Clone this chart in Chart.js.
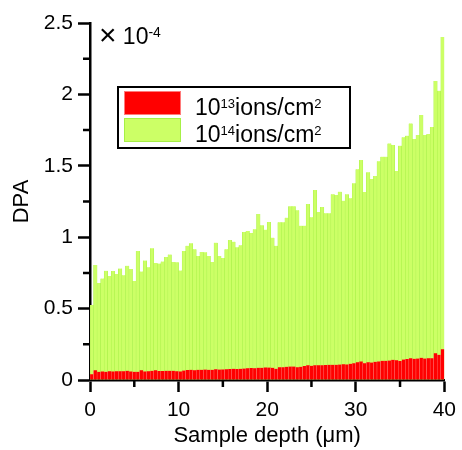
<!DOCTYPE html>
<html>
<head>
<meta charset="utf-8">
<script src="https://cdn.jsdelivr.net/npm/chart.js@4"></script>
<style>
  body { margin: 0; background: #fff; }
  canvas { display: block; }
</style>
</head>
<body>
<canvas id="dpa-chart" width="462" height="450"></canvas>
<script>
// bin centres (um), 0.4 um bins
var depth = [
  0.2, 0.6, 1, 1.4, 1.8, 2.2, 2.6, 3, 3.4, 3.8,
  4.2, 4.6, 5, 5.4, 5.8, 6.2, 6.6, 7, 7.4, 7.8,
  8.2, 8.6, 9, 9.4, 9.8, 10.2, 10.6, 11, 11.4, 11.8,
  12.2, 12.6, 13, 13.4, 13.8, 14.2, 14.6, 15, 15.4, 15.8,
  16.2, 16.6, 17, 17.4, 17.8, 18.2, 18.6, 19, 19.4, 19.8,
  20.2, 20.6, 21, 21.4, 21.8, 22.2, 22.6, 23, 23.4, 23.8,
  24.2, 24.6, 25, 25.4, 25.8, 26.2, 26.6, 27, 27.4, 27.8,
  28.2, 28.6, 29, 29.4, 29.8, 30.2, 30.6, 31, 31.4, 31.8,
  32.2, 32.6, 33, 33.4, 33.8, 34.2, 34.6, 35, 35.4, 35.8,
  36.2, 36.6, 37, 37.4, 37.8, 38.2, 38.6, 39, 39.4, 39.8
];

// DPA in units of 1e-4, fluence 1e13 ions/cm2
var dpa13 = [
  0.040, 0.068, 0.058, 0.060, 0.058, 0.061, 0.060, 0.061, 0.062, 0.061,
  0.064, 0.060, 0.058, 0.057, 0.068, 0.060, 0.062, 0.064, 0.069, 0.063,
  0.063, 0.064, 0.065, 0.064, 0.062, 0.060, 0.066, 0.070, 0.071, 0.069,
  0.072, 0.072, 0.073, 0.072, 0.071, 0.076, 0.073, 0.074, 0.076, 0.077,
  0.078, 0.077, 0.079, 0.080, 0.083, 0.084, 0.083, 0.086, 0.085, 0.088,
  0.087, 0.085, 0.079, 0.090, 0.090, 0.092, 0.094, 0.094, 0.090, 0.093,
  0.098, 0.104, 0.099, 0.104, 0.103, 0.104, 0.105, 0.107, 0.107, 0.106,
  0.108, 0.110, 0.109, 0.113, 0.118, 0.124, 0.130, 0.118, 0.124, 0.122,
  0.128, 0.130, 0.134, 0.134, 0.136, 0.142, 0.138, 0.133, 0.143, 0.147,
  0.152, 0.148, 0.150, 0.156, 0.150, 0.152, 0.153, 0.187, 0.176, 0.215
];

// DPA in units of 1e-4, fluence 1e14 ions/cm2
var dpa14 = [
  0.525, 0.805, 0.680, 0.710, 0.765, 0.728, 0.763, 0.742, 0.780, 0.733,
  0.800, 0.777, 0.693, 0.903, 0.759, 0.836, 0.789, 0.922, 0.819, 0.815,
  0.829, 0.861, 0.878, 0.826, 0.824, 0.766, 0.903, 0.940, 0.957, 0.915,
  0.868, 0.896, 0.894, 0.868, 0.826, 0.962, 0.868, 0.854, 0.915, 0.980,
  0.969, 0.929, 0.943, 1.036, 1.043, 1.029, 1.055, 1.162, 1.083, 1.053,
  1.106, 0.997, 0.940, 1.104, 1.104, 1.137, 1.216, 1.216, 1.188, 1.081,
  1.081, 1.232, 1.139, 1.330, 1.176, 1.211, 1.167, 1.167, 1.300, 1.295,
  1.319, 1.256, 1.300, 1.272, 1.377, 1.475, 1.541, 1.317, 1.454, 1.408,
  1.429, 1.531, 1.564, 1.564, 1.657, 1.646, 1.464, 1.641, 1.700, 1.711,
  1.797, 1.688, 1.716, 1.856, 1.716, 1.723, 1.772, 2.094, 2.026, 2.402
];

var xTicks = [0, 10, 20, 30, 40];
var yTicks = [0, 0.5, 1, 1.5, 2, 2.5];

// legend text pieces: [normal, superscript, normal, superscript]
var legendParts = [
  ['10', '13', 'ions/cm', '2'],
  ['10', '14', 'ions/cm', '2']
];
var seriesColors = ['#ff0000', '#ccff66'];
var edgeColors = ['#ff7a7a', '#a6f046'];

var FONT = "'Liberation Sans', Arial, sans-serif";

// short ticks halfway between the labelled ones
var minorTicks = {
  id: 'minorTicks',
  afterDraw: function(chart) {
    var c = chart.ctx, area = chart.chartArea;
    var xs = chart.scales.x, ys = chart.scales.y;
    c.save();
    c.strokeStyle = '#000';
    c.lineWidth = 2.5;
    c.beginPath();
    for (var i = 0; i < xTicks.length - 1; i++) {
      var px = xs.getPixelForValue((xTicks[i] + xTicks[i + 1]) / 2);
      c.moveTo(px, area.bottom);
      c.lineTo(px, area.bottom + 7);
    }
    for (var j = 0; j < yTicks.length - 1; j++) {
      var py = ys.getPixelForValue((yTicks[j] + yTicks[j + 1]) / 2);
      c.moveTo(area.left, py);
      c.lineTo(area.left - 7, py);
    }
    c.stroke();
    c.restore();
  }
};

function drawSupText(c, parts, x, y, big, small) {
  for (var k = 0; k < parts.length; k++) {
    var sup = k % 2 == 1;
    c.font = (sup ? small : big) + 'px ' + FONT;
    c.fillText(parts[k], x, sup ? y - big * 0.32 : y);
    x += c.measureText(parts[k]).width;
  }
}

var boxLegend = {
  id: 'boxLegend',
  afterDraw: function(chart) {
    var c = chart.ctx, area = chart.chartArea;
    var bx = area.left + 28, by = area.top + 64, bw = 232, bh = 61;
    c.save();
    c.fillStyle = '#fff';
    c.fillRect(bx, by, bw, bh);
    c.lineWidth = 2;
    c.strokeStyle = '#000';
    c.strokeRect(bx, by, bw, bh);
    for (var i = 0; i < legendParts.length; i++) {
      var ry = by + 4 + i * 27;
      c.fillStyle = seriesColors[i];
      c.fillRect(bx + 6, ry, 57, 24);
      c.strokeStyle = edgeColors[i];
      c.lineWidth = 1;
      c.strokeRect(bx + 6.5, ry + 0.5, 56, 23);
      c.fillStyle = '#000';
      c.textBaseline = 'alphabetic';
      drawSupText(c, legendParts[i], bx + 77, ry + 24, 23, 13);
    }
    c.restore();
  }
};

var exponentNote = {
  id: 'exponentNote',
  afterDraw: function(chart) {
    var c = chart.ctx, area = chart.chartArea;
    var x = area.left + 9, y = area.top + 21;
    c.save();
    c.fillStyle = '#000';
    c.textBaseline = 'alphabetic';
    c.font = '30px ' + FONT;
    c.fillText('\u00d7', x, y + 1);
    x += c.measureText('\u00d7 ').width - 2;
    drawSupText(c, ['10', '-4'], x, y, 23, 14);
    c.restore();
  }
};

Chart.defaults.font.family = FONT;
Chart.defaults.color = '#000';

var ctx = document.getElementById('dpa-chart').getContext('2d');
var dpaChart = new Chart(ctx, {
  type: 'bar',
  data: {
    labels: depth,
    datasets: [
      { label: '10\u00b9\u00b3ions/cm\u00b2', data: dpa13,
        backgroundColor: seriesColors[0], borderColor: edgeColors[0],
        borderWidth: { left: 0.5, right: 0.5, top: 0, bottom: 0 },
        grouped: false, barPercentage: 1, categoryPercentage: 1 },
      { label: '10\u00b9\u2074ions/cm\u00b2', data: dpa14,
        backgroundColor: seriesColors[1], borderColor: edgeColors[1],
        borderWidth: { left: 0.5, right: 0.5, top: 0, bottom: 0 },
        grouped: false, barPercentage: 1, categoryPercentage: 1 }
    ]
  },
  options: {
    responsive: false,
    animation: false,
    layout: { padding: { top: 23, right: 13, bottom: 0, left: 0 } },
    plugins: { legend: { display: false }, tooltip: { enabled: false } },
    scales: {
      x: {
        type: 'linear', min: 0, max: 40, offset: false,
        afterBuildTicks: function(s) { s.ticks = xTicks.map(function(v) { return { value: v }; }); },
        ticks: { font: { size: 21 }, padding: 6, maxRotation: 0,
                 callback: function(v) { return String(v); } },
        grid: { offset: false, drawOnChartArea: false, drawTicks: true, tickLength: 12, tickWidth: 2.5, tickColor: '#000' },
        border: { display: true, color: '#000', width: 2.5 },
        title: { display: true, text: 'Sample depth (\u03bcm)', font: { size: 22 }, padding: { top: 0, bottom: 1 } },
        afterFit: function(s) { s.height = 70; }
      },
      y: {
        min: 0, max: 2.5,
        afterBuildTicks: function(s) { s.ticks = yTicks.map(function(v) { return { value: v }; }); },
        ticks: { font: { size: 21 }, padding: 5,
                 callback: function(v) { return String(v); } },
        grid: { drawOnChartArea: false, drawTicks: true, tickLength: 12, tickWidth: 2.5, tickColor: '#000' },
        border: { display: true, color: '#000', width: 2.5 },
        title: { display: true, text: 'DPA', font: { size: 22 }, padding: { top: 9, bottom: 0 } },
        afterFit: function(s) { s.width = 90; }
      }
    }
  },
  plugins: [minorTicks, boxLegend, exponentNote]
});
</script>
</body>
</html>
